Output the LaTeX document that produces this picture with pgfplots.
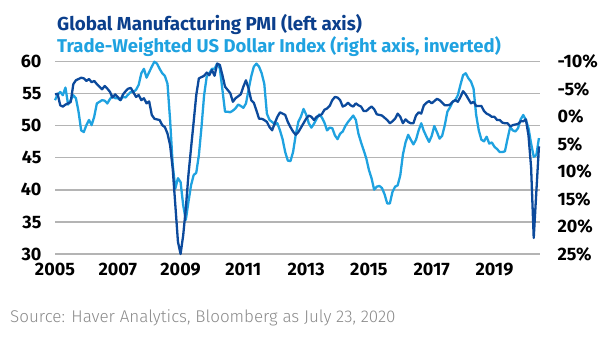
\documentclass[border=0pt]{standalone}
\usepackage{fontspec}
\setmainfont{Fira Sans}
\newfontfamily\srcfont{Fira Sans Light}
\usepackage{pgfplots}
\usepackage{pgfplotstable}
\pgfplotsset{compat=1.18}
\definecolor{darkblue}{HTML}{0C4A9C}
\definecolor{lightblue}{HTML}{1FA2E0}
\definecolor{titledark}{HTML}{0B3F8C}
\definecolor{gridgray}{HTML}{B4B4B4}
\definecolor{srcgray}{HTML}{8A8A8A}

% m = months since Jan 2005; pmi = Global Manufacturing PMI; usd = trade-weighted USD (%), right axis inverted
\pgfplotstableread{
m pmi usd
0 54.9 -3.0
1 55.0 -4.0
2 53.2 -4.5
3 53.0 -3.9
4 53.3 -5.3
5 53.5 -2.2
6 53.7 -3.0
7 56.5 -3.9
8 57.1 -3.35
9 57.3 -0.9
10 57.5 2.5
11 57.4 2.8
12 57.0 1.55
13 57.3 0.6
14 56.8 1.55
15 57.0 0.0
16 56.5 -2.4
17 56.1 -2.7
18 55.7 -3.0
19 56.2 -2.9
20 55.8 -2.4
21 55.3 -3.2
22 54.4 -3.8
23 54.9 -3.35
24 54.5 -3.35
25 54.0 -3.0
26 54.9 -3.6
27 55.4 -3.5
28 55.8 -4.05
29 55.9 -4.5
30 55.2 -4.5
31 54.5 -4.9
32 54.8 -5.8
33 54.0 -7.9
34 54.3 -8.7
35 53.5 -7.1
36 53.8 -8.1
37 51.7 -9.1
38 51.1 -10.0
39 51.0 -9.65
40 50.9 -8.7
41 50.1 -7.9
42 49.8 -7.4
43 48.8 -6.0
44 47.0 0.6
45 43.3 8.8
46 37.6 13.1
47 31.9 11.2
48 30.0 11.9
49 32.9 16.1
50 37.1 18.8
51 42.3 15.55
52 46.5 12.5
53 50.6 10.65
54 54.8 10.2
55 57.4 7.0
56 57.6 1.9
57 57.8 -3.9
58 58.3 -7.3
59 57.9 -7.9
60 58.7 -8.7
61 57.8 -8.7
62 59.7 -9.65
63 59.5 -8.8
64 57.9 -4.9
65 56.1 -0.9
66 55.6 -0.9
67 55.1 -0.8
68 53.75 -1.1
69 54.3 -1.5
70 54.6 -2.2
71 54.9 -1.95
72 56.1 -1.6
73 57.1 -2.4
74 55.8 -4.9
75 54.0 -7.3
76 53.6 -9.1
77 52.4 -9.65
78 51.1 -9.1
79 51.1 -7.9
80 50.9 -6.0
81 50.6 -0.55
82 49.8 0.6
83 49.3 0.97
84 50.4 1.4
85 51.4 1.2
86 52.1 2.5
87 51.9 4.1
88 51.7 6.45
89 50.6 8.0
90 49.8 8.1
91 49.1 6.45
92 48.6 3.4
93 49.0 0.97
94 49.7 0.0
95 50.4 -1.4
96 51.1 -0.4
97 51.6 1.2
98 51.4 2.0
99 50.9 1.3
100 51.4 0.4
101 51.6 -0.4
102 51.8 0.15
103 52.5 1.1
104 52.7 2.5
105 53.1 2.0
106 54.0 2.1
107 54.5 3.4
108 54.4 4.1
109 54.0 3.1
110 53.0 2.7
111 53.2 1.7
112 53.6 0.97
113 53.2 0.4
114 53.0 -0.2
115 53.5 0.6
116 53.2 3.1
117 53.0 4.7
118 52.3 6.1
119 52.3 7.6
120 52.7 9.7
121 53.0 11.2
122 52.6 13.3
123 51.8 12.75
124 51.7 12.6
125 51.6 13.0
126 51.25 14.15
127 50.9 15.8
128 50.4 15.8
129 50.7 13.7
130 51.1 12.75
131 51.9 12.5
132 51.4 10.65
133 50.4 6.9
134 51.0 4.7
135 50.6 3.3
136 50.4 4.2
137 50.4 5.05
138 51.6 4.2
139 52.1 2.5
140 51.9 1.2
141 53.2 2.6
142 53.6 3.65
143 53.85 4.6
144 53.5 3.5
145 53.85 1.7
146 54.2 2.8
147 54.0 4.0
148 53.6 3.5
149 53.2 1.55
150 53.2 -0.9
151 53.3 -1.7
152 53.75 -2.7
153 54.0 -3.0
154 53.75 -3.9
155 54.5 -5.8
156 55.4 -7.55
157 54.9 -7.9
158 54.2 -7.0
159 53.5 -6.4
160 53.75 -5.1
161 53.1 -0.3
162 53.1 2.5
163 53.1 4.2
164 52.3 4.5
165 51.9 3.65
166 51.7 4.9
167 51.4 4.7
168 51.4 5.5
169 50.9 5.9
170 50.9 6.45
171 50.5 6.45
172 50.4 6.3
173 50.4 4.0
174 49.9 1.9
175 50.1 2.5
176 50.2 2.7
177 50.3 2.1
178 50.7 0.5
179 50.7 -0.3
180 51.0 0.6
181 48.5 2.1
182 43.5 4.9
183 32.5 7.3
184 39.7 7.0
185 46.8 3.9
}\data

\pgfplotsset{
  common/.style={
    at={(55pt,87pt)}, anchor=south west,
    scale only axis, width=485pt, height=192.3pt,
    xmin=2005, xmax=2020.45,
    axis line style={draw=none}, tick style={draw=none},
    tick label style={font=\bfseries\fontsize{18}{20}\selectfont, text=black},
    /pgf/number format/assume math mode=true,
  }
}

\begin{document}
\begin{tikzpicture}
\useasboundingbox (0,0) rectangle (605pt,341pt);
\node[anchor=base west, inner sep=0, text=titledark, font=\bfseries\fontsize{18.8}{21}\selectfont] at (57pt,311pt) {Global Manufacturing PMI (left axis)};
\node[anchor=base west, inner sep=0, text=lightblue, font=\bfseries\fontsize{18.5}{21}\selectfont] at (57pt,288pt) {Trade-Weighted US Dollar Index (right axis, inverted)};
\node[anchor=base west, inner sep=0, text=srcgray, font=\srcfont\fontsize{17}{20}\selectfont] at (10pt,19pt) {Source: Haver Analytics, Bloomberg as July 23, 2020};

% left axis: grid, PMI ticks, years
\begin{axis}[common,
  ymin=30, ymax=60, ytick={30,35,40,45,50,55,60},
  ymajorgrids, major grid style={color=gridgray, line width=1.2pt},
  xtick={2005,2007,2009,2011,2013,2015,2017,2019},
  xticklabels={2005,2007,2009,2011,2013,2015,2017,2019},
  xticklabel style={yshift=-6pt},
  yticklabel style={xshift=-10pt},
]
\end{axis}

% right axis: USD, inverted
\begin{axis}[common, clip=false,
  ymin=-10, ymax=25, y dir=reverse,
  yticklabel pos=right,
  ytick={-10,-5,0,5,10,15,20,25},
  yticklabels={-10\%,-5\%,0\%,5\%,10\%,15\%,20\%,25\%},
  yticklabel style={xshift=14pt},
  xtick=\empty,
]
\addplot[lightblue, line width=2.3pt, line join=round] table[x expr=2005+\thisrow{m}/12, y=usd]{\data};
\end{axis}

% PMI line on top
\begin{axis}[common, clip=false,
  ymin=30, ymax=60, ytick=\empty, xtick=\empty,
]
\addplot[darkblue, line width=2.3pt, line join=round] table[x expr=2005+\thisrow{m}/12, y=pmi]{\data};
\end{axis}
\end{tikzpicture}
\end{document}
